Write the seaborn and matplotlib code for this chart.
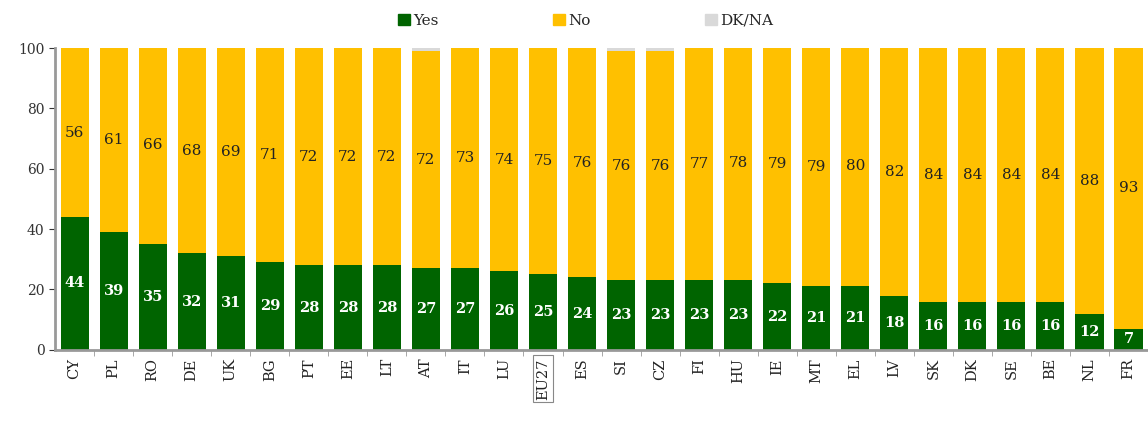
import matplotlib.pyplot as plt
from matplotlib.patches import Patch
import numpy as np
import seaborn as sns

# data
countries = ['CY', 'PL', 'RO', 'DE', 'UK', 'BG', 'PT', 'EE', 'LT', 'AT', 'IT', 'LU', 'EU27',
             'ES', 'SI', 'CZ', 'FI', 'HU', 'IE', 'MT', 'EL', 'LV', 'SK', 'DK', 'SE', 'BE', 'NL', 'FR']
yes = [44, 39, 35, 32, 31, 29, 28, 28, 28, 27, 27, 26, 25,
       24, 23, 23, 23, 23, 22, 21, 21, 18, 16, 16, 16, 16, 12, 7]
no = [56, 61, 66, 68, 69, 71, 72, 72, 72, 72, 73, 74, 75,
      76, 76, 76, 77, 78, 79, 79, 80, 82, 84, 84, 84, 84, 88, 93]

GREEN = '#006400'
YELLOW = '#FFC000'
GREY = '#D9D9D9'

sns.set_style('white')
plt.rcParams['font.family'] = ['DejaVu Serif']

yes_a = np.array(yes)
no_a = np.array(no)
dk = np.clip(100 - yes_a - no_a, 0, None)

fig = plt.figure(figsize=(11.48, 4.22), dpi=100)
ax = fig.add_axes([0.048, 0.171, 0.952, 0.715])

bar_kw = dict(width=0.72, saturation=1, linewidth=0, ax=ax)
sns.barplot(x=countries, y=yes, color=GREEN, **bar_kw)
sns.barplot(x=countries, y=no, bottom=yes, color=YELLOW, **bar_kw)
sns.barplot(x=countries, y=list(dk), bottom=list(yes_a + no_a), color=GREY, **bar_kw)

# value labels
for i, (y, n) in enumerate(zip(yes, no)):
    ax.text(i, y / 2, str(y), ha='center', va='center', color='white',
            fontsize=10.5, fontweight='bold')
    ax.text(i, y + n / 2, str(n), ha='center', va='center', color='#222222', fontsize=11)

ax.set_xlim(-0.5, len(countries) - 0.5)
ax.set_ylim(0, 100)
ax.set_yticks([0, 20, 40, 60, 80, 100])
ax.tick_params(axis='y', labelsize=10, colors='#333333', length=4, left=True)
ax.tick_params(axis='x', labelsize=10.5, length=0, rotation=90, pad=6, colors='#222222')
ax.set_xticks(np.arange(len(countries)) + 0.5, minor=True)
ax.tick_params(axis='x', which='minor', length=4, color='#999999', bottom=True)

for s in ['top', 'right']:
    ax.spines[s].set_visible(False)
for s in ['left', 'bottom']:
    ax.spines[s].set_color('#999999')
    ax.spines[s].set_linewidth(2)

for lbl in ax.get_xticklabels():
    if lbl.get_text() == 'EU27':
        lbl.set_bbox(dict(facecolor='white', edgecolor='#888888', linewidth=0.8, pad=2))

handles = [Patch(color=GREEN, label='Yes'), Patch(color=YELLOW, label='No'),
           Patch(color=GREY, label='DK/NA')]
fig.legend(handles=handles, loc='upper center', bbox_to_anchor=(0.51, 1.0), ncol=3,
           frameon=False, fontsize=11, handlelength=0.8, handleheight=0.8,
           handletextpad=0.2, columnspacing=7.5)

plt.savefig('out.png', dpi=100)
